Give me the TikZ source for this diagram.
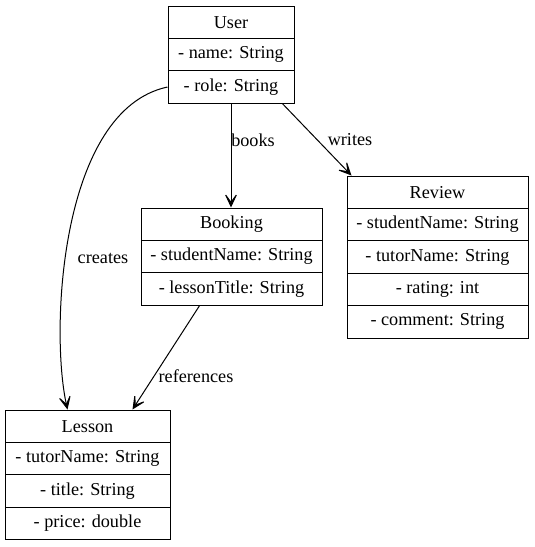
\documentclass[tikz,border=0pt]{standalone}
\usepackage{fontspec}
\setmainfont{Liberation Serif}
\usetikzlibrary{arrows.meta,calc}
\begin{document}
\begin{tikzpicture}[x=1pt,y=-1pt,
  every node/.style={font=\fontsize{18.2}{21}\selectfont},
  row/.style={draw, line width=1pt, minimum height=32.4pt, inner sep=0pt, anchor=center},
  uw/.style={row, minimum width=126pt},
  bw/.style={row, minimum width=181pt},
  lw/.style={row, minimum width=165pt},
  arr/.style={line width=1pt, -{Stealth[length=17pt, width=16pt, inset=11pt]}},
  lbl/.style={inner sep=1pt}]
\useasboundingbox (0,0) rectangle (535,547);
% User
\node[uw] (u1) at (231,22.2) {User};
\node[uw] (u2) at (231,54.6) {- name: String};
\node[uw] (u3) at (231,87.0) {- role: String};
% Booking
\node[bw] (b1) at (231.5,224.2) {Booking};
\node[bw] (b2) at (231.5,256.6) {- studentName: String};
\node[bw] (b3) at (231.5,289.0) {- lessonTitle: String};
% Review
\node[bw] (r1) at (437.5,192.2) {Review};
\node[bw] (r2) at (437.5,224.6) {- studentName: String};
\node[bw] (r3) at (437.5,257.0) {- tutorName: String};
\node[bw] (r4) at (437.5,289.4) {- rating: int};
\node[bw] (r5) at (437.5,321.8) {- comment: String};
% Lesson
\node[lw] (l1) at (87.5,426.2) {Lesson};
\node[lw] (l2) at (87.5,458.6) {- tutorName: String};
\node[lw] (l3) at (87.5,491.0) {- title: String};
\node[lw] (l4) at (87.5,523.4) {- price: double};
% edges
\draw[arr] (u3.south) -- (u3.south |- b1.north);
\draw[arr] ($(u3.south east)+(-12,0)$) -- ($(r1.north west)+(5,0)$);
\draw[arr] (u3.west) .. controls (60,110) and (50,330) .. ($(l1.north west)+(63,0)$);
\draw[arr] ($(b3.south west)+(59,0)$) -- ($(l1.north west)+(128,0)$);
% labels
\node[lbl] (lbooks) at (253,140) {books};
\node[lbl] (lwrites) at (350,140) {writes};
\node[lbl] (lcreates) at (103,258) {creates};
\node[lbl] (lrefs) at (196,376) {references};
\end{tikzpicture}
\end{document}
